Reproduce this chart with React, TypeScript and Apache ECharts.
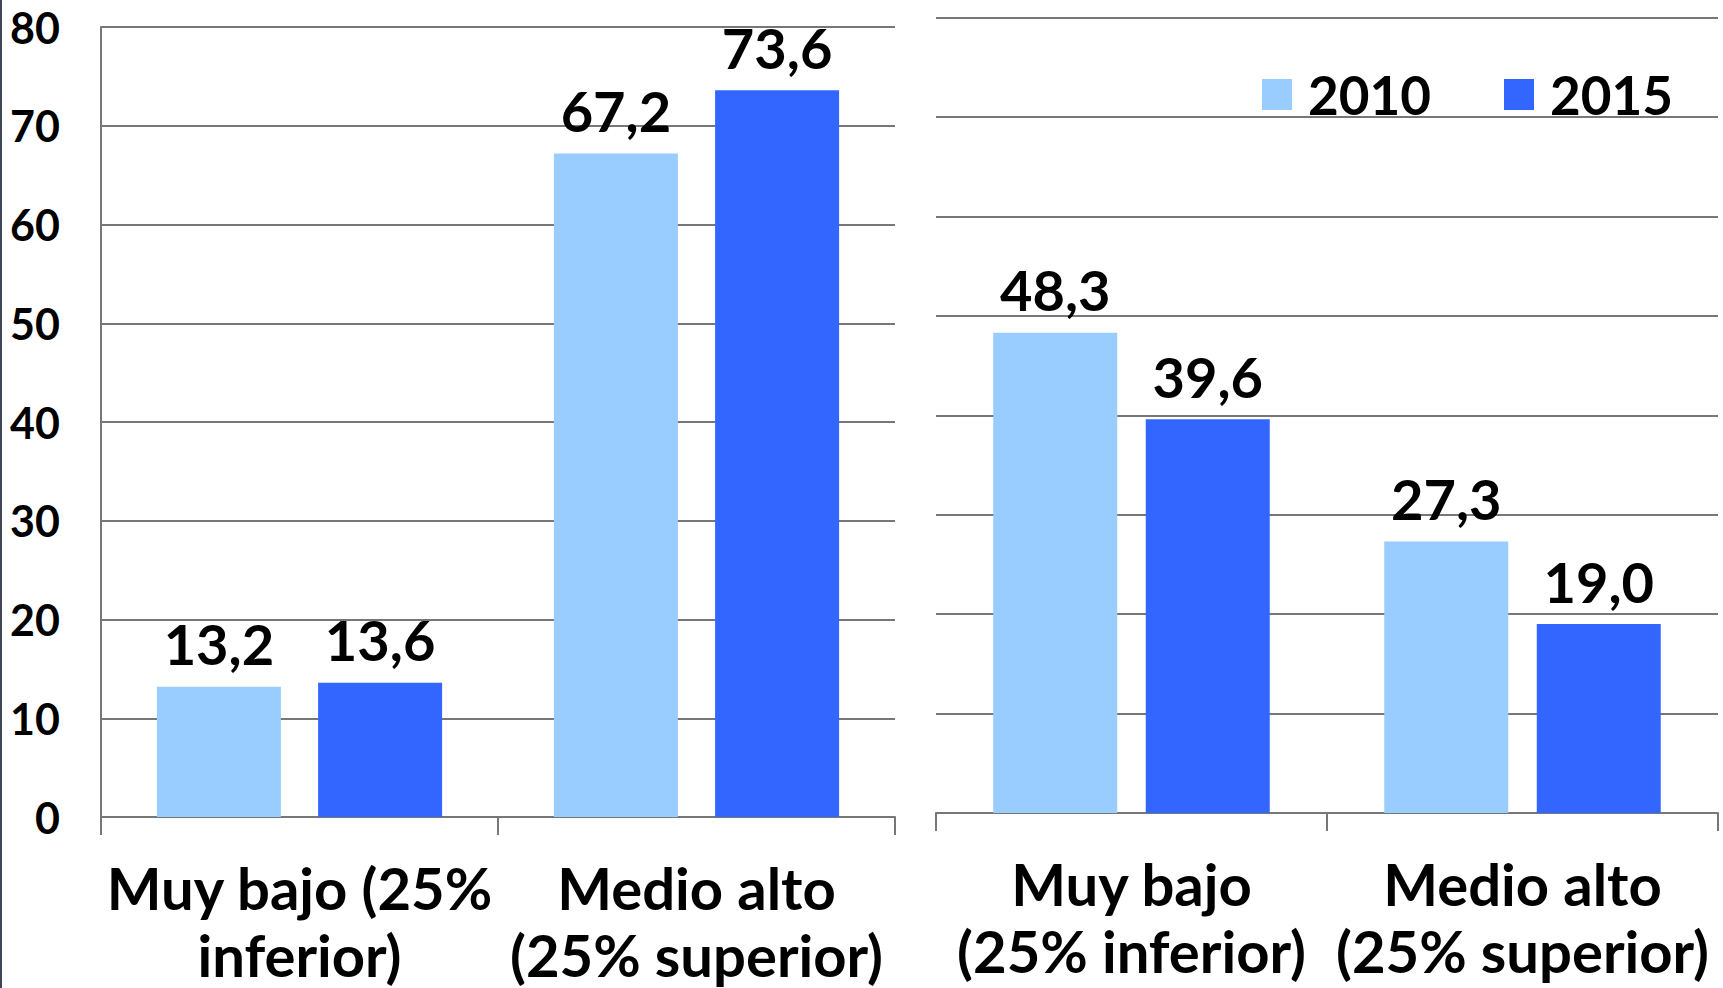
import React, { useEffect, useRef } from "react";
import * as echarts from "echarts";

const categoriesLeft = ["Muy bajo (25%\ninferior)", "Medio alto\n(25% superior)"];
const categoriesRight = ["Muy bajo\n(25% inferior)", "Medio alto\n(25% superior)"];
const seriesNames = ["2010", "2015"];
const left2010 = [13.2, 67.2];
const left2015 = [13.6, 73.6];
const right2010 = [48.3, 27.3];
const right2015 = [39.6, 19.0];
const yMin = 0;
const yMax = 80;
const yInterval = 10;

const FONT = "Lato";
const WEIGHT = "bold";
const C2010 = "#99CCFF";
const C2015 = "#3366FF";
const GRID = "#777777";

const fmt = (p: any) => Number(p.value).toFixed(1).replace(".", ",");

export default function App() {
  const ref = useRef<HTMLDivElement>(null);
  useEffect(() => {
    if (!ref.current) return;
    const chart = echarts.init(ref.current, null, { renderer: "svg" });
    const valueLabel = {
      show: true,
      position: "top",
      distance: 15,
      formatter: fmt,
      fontFamily: FONT,
      fontWeight: WEIGHT,
      fontSize: 56,
      lineHeight: 56,
      color: "#000",
    };
    const catAxisCommon = {
      type: "category",
      boundaryGap: true,
      axisLine: { show: true, lineStyle: { color: GRID, width: 2 } },
      axisTick: { show: true, length: 18, alignWithLabel: false, lineStyle: { color: GRID, width: 2 } },
      axisLabel: {
        interval: 0,
        margin: 37,
        fontFamily: FONT,
        fontWeight: WEIGHT,
        fontSize: 58,
        lineHeight: 67,
        color: "#000",
      },
    };
    const valAxisCommon = {
      type: "value",
      min: yMin,
      max: yMax,
      interval: yInterval,
      splitLine: { show: true, lineStyle: { color: GRID, width: 2 } },
    };
    const legendText = { fontFamily: FONT, fontWeight: WEIGHT, fontSize: 53, color: "#000", padding: [0, 0, 0, 11] };
    chart.setOption({
      animation: false,
      backgroundColor: "#ffffff",
      grid: [
        { left: 101, right: 1723 - 895, top: 27, bottom: 988 - 819, containLabel: false },
        { left: 936, right: 5, top: 17.7, bottom: 988 - 813, containLabel: false },
      ],
      legend: [
        {
          data: [seriesNames[0]],
          left: 1257,
          top: 63,
          itemWidth: 30,
          itemHeight: 31,
          icon: "rect",
          textStyle: legendText,
        },
        {
          data: [seriesNames[1]],
          left: 1499,
          top: 63,
          itemWidth: 30,
          itemHeight: 31,
          icon: "rect",
          textStyle: legendText,
        },
      ],
      xAxis: [
        { ...catAxisCommon, gridIndex: 0, data: categoriesLeft },
        { ...catAxisCommon, gridIndex: 1, data: categoriesRight },
      ],
      yAxis: [
        {
          ...valAxisCommon,
          gridIndex: 0,
          axisLine: { show: true, lineStyle: { color: GRID, width: 2 } },
          axisTick: { show: false },
          axisLabel: {
            show: true,
            margin: 41,
            fontFamily: FONT,
            fontWeight: WEIGHT,
            fontSize: 43,
            color: "#000",
          },
        },
        {
          ...valAxisCommon,
          gridIndex: 1,
          axisLine: { show: false },
          axisTick: { show: false },
          axisLabel: { show: false },
        },
      ],
      series: [
        {
          name: seriesNames[0],
          type: "bar",
          xAxisIndex: 0,
          yAxisIndex: 0,
          data: left2010,
          barWidth: 124,
          barGap: "30%",
          itemStyle: { color: C2010 },
          label: valueLabel,
        },
        {
          name: seriesNames[1],
          type: "bar",
          xAxisIndex: 0,
          yAxisIndex: 0,
          data: left2015,
          barWidth: 124,
          barGap: "30%",
          itemStyle: { color: C2015 },
          label: valueLabel,
        },
        {
          name: seriesNames[0],
          type: "bar",
          xAxisIndex: 1,
          yAxisIndex: 1,
          data: right2010,
          barWidth: 124,
          barGap: "23%",
          itemStyle: { color: C2010 },
          label: valueLabel,
        },
        {
          name: seriesNames[1],
          type: "bar",
          xAxisIndex: 1,
          yAxisIndex: 1,
          data: right2015,
          barWidth: 124,
          barGap: "23%",
          itemStyle: { color: C2015 },
          label: valueLabel,
        },
      ],
      graphic: [
        {
          type: "rect",
          left: 0,
          top: 0,
          shape: { x: 0, y: 0, width: 2, height: 988 },
          style: { fill: "#3e4554" },
          silent: true,
        },
      ],
    });
    return () => chart.dispose();
  }, []);
  return (
    <div
      ref={ref}
      style={{ position: "fixed", left: 0, top: 0, width: 1723, height: 988, background: "#fff" }}
    />
  );
}
